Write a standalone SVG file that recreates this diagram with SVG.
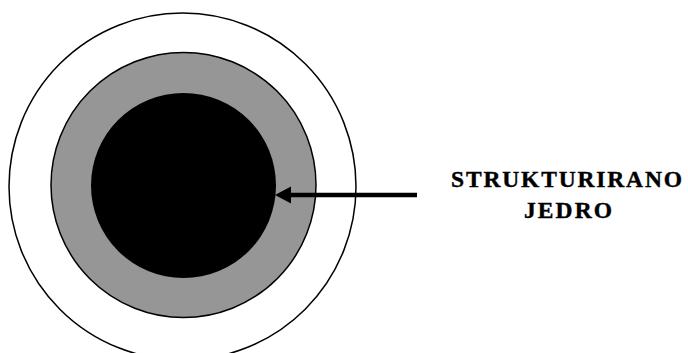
<svg xmlns="http://www.w3.org/2000/svg" width="688" height="353" viewBox="0 0 688 353">
<style>
.lbl{font-family:"Liberation Serif","Times New Roman",serif;font-weight:bold;font-size:23.5px;fill:#000;stroke:#000;stroke-width:0.4}
</style>
<rect width="688" height="353" fill="#fff"/>
<g id="outer"><circle cx="182.5" cy="186.5" r="173.5" fill="#fff" stroke="#000" stroke-width="1.5"/></g>
<g id="middle"><circle cx="183.5" cy="185" r="132.5" fill="#969696" stroke="#000" stroke-width="1.5"/></g>
<g id="core"><circle cx="183.5" cy="185.5" r="92.5" fill="#000"/></g>
<g id="connectors">
<line x1="417" y1="195" x2="291" y2="195" stroke="#000" stroke-width="4.5"/>
<path d="M275,195 L291,186.5 L291,203.5 Z" fill="#000"/>
</g>
<g id="label">
<text class="lbl" x="451" y="186.5" textLength="231" lengthAdjust="spacing">STRUKTURIRANO</text>
<text class="lbl" x="524" y="218" textLength="88" lengthAdjust="spacing">JEDRO</text>
</g>
</svg>
